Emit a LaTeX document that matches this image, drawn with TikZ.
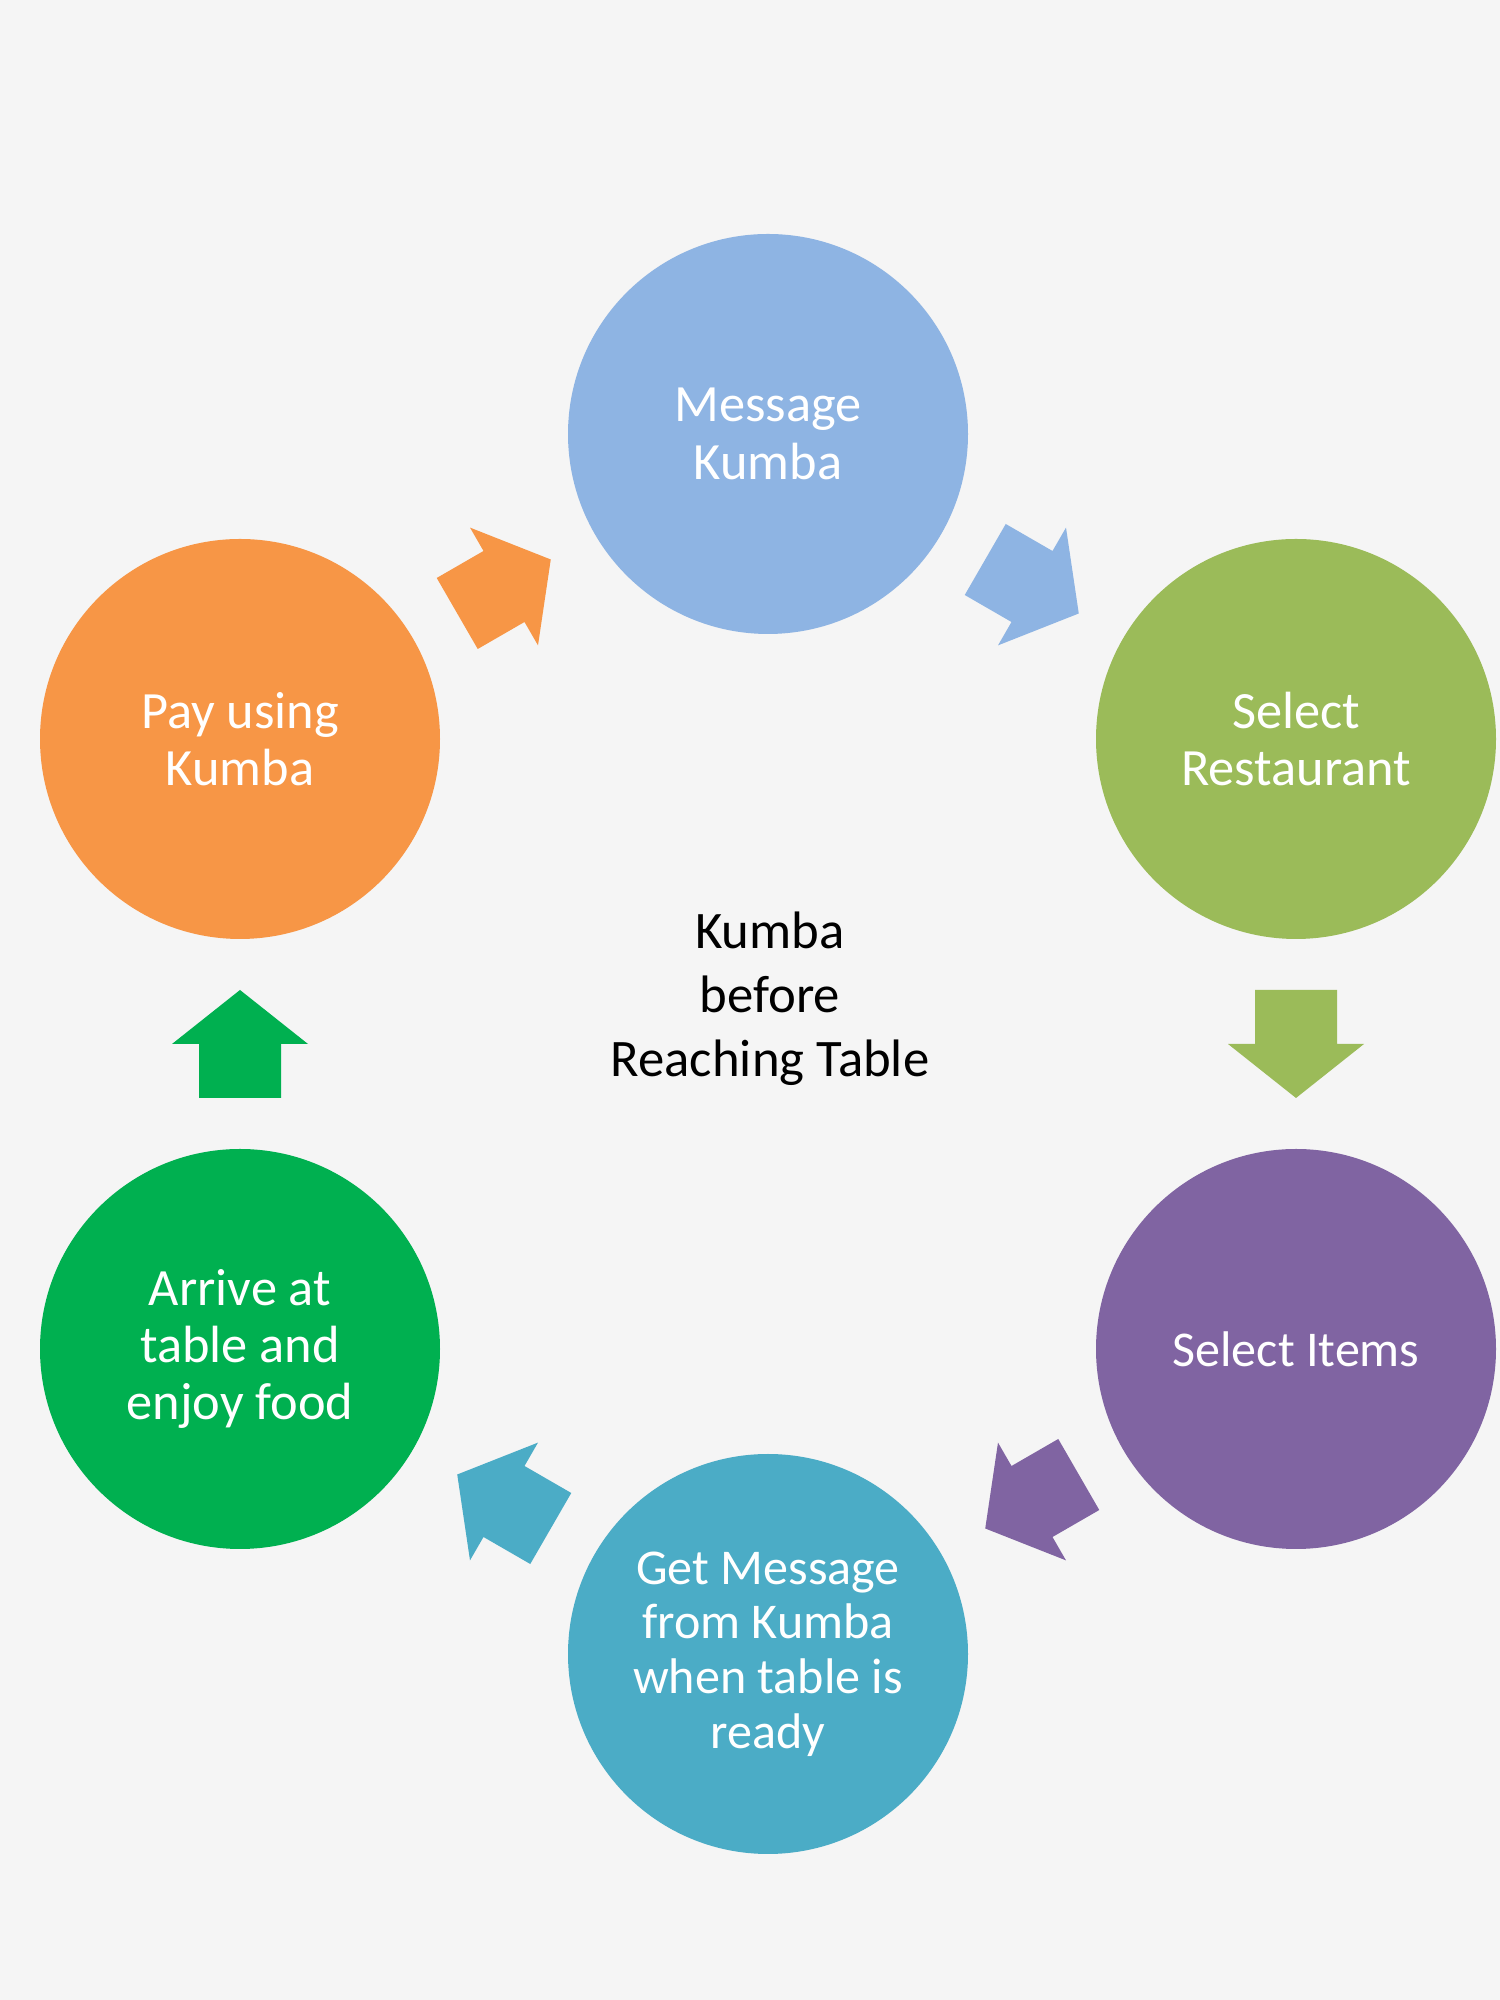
\documentclass[tikz,border=0pt]{standalone}
\usepackage{fontspec}
\setmainfont{Carlito}
\usetikzlibrary{calc}

\definecolor{bgGrey}{HTML}{F5F5F5}
\definecolor{kBlue}{HTML}{8EB4E3}
\definecolor{kLime}{HTML}{9BBB59}
\definecolor{kPurple}{HTML}{8064A2}
\definecolor{kTeal}{HTML}{4BACC6}
\definecolor{kGreen}{HTML}{00B050}
\definecolor{kOrange}{HTML}{F79646}

\begin{document}
\begin{tikzpicture}[
    stage/.style={circle, inner sep=0pt, minimum size=8cm, text=white, align=center, font=\fontsize{29.8}{32.7}\selectfont},
    smalltext/.style={font=\fontsize{28.5}{31.1}\selectfont},
    hub/.style={align=center, text=black, font=\fontsize{30}{36.5}\selectfont},
    blockarrow/.pic={\fill[#1] (-1.08,-0.82) -- (0,-0.82) -- (0,-1.36) -- (1.08,0) -- (0,1.36) -- (0,0.82) -- (-1.08,0.82) -- cycle;}
]

% Background
\fill[bgGrey] (0,0) rectangle (30,40);

% Cycle stages
\node[stage, fill=kBlue] (msg) at (15.36,31.32) {Message\\Kumba};
\node[stage, fill=kLime] (restaurant) at (25.92,25.22) {Select\\Restaurant};
\node[stage, smalltext, fill=kPurple] (items) at (25.92,13.02) {Select Items};
\node[stage, smalltext, fill=kTeal] (ready) at (15.36,6.92) {Get Message\\from Kumba\\when table is\\ready};
\node[stage, fill=kGreen] (arrive) at (4.80,13.02) {Arrive at\\table and\\enjoy food};
\node[stage, fill=kOrange] (pay) at (4.80,25.22) {Pay using\\Kumba};

% Centre title
\node[hub] (title) at (15.40,20.02) {Kumba\\before\\Reaching Table};

% Block arrows between stages
\pic[rotate=-30] at ($(msg)!0.5!(restaurant)$) {blockarrow=kBlue};
\pic[rotate=-90] at ($(restaurant)!0.5!(items)$) {blockarrow=kLime};
\pic[rotate=-150] at ($(items)!0.5!(ready)$) {blockarrow=kPurple};
\pic[rotate=150] at ($(ready)!0.5!(arrive)$) {blockarrow=kTeal};
\pic[rotate=90] at ($(arrive)!0.5!(pay)$) {blockarrow=kGreen};
\pic[rotate=30] at ($(pay)!0.5!(msg)$) {blockarrow=kOrange};

\end{tikzpicture}
\end{document}
